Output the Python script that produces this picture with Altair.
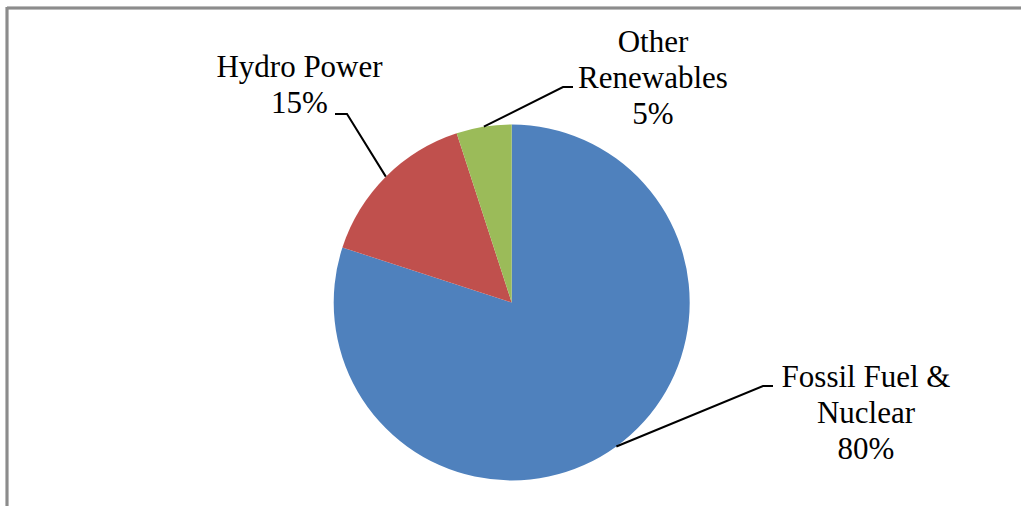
import math
import altair as alt
import pandas as pd

# Share of electricity generation by source
sources = ["Fossil Fuel & Nuclear", "Hydro Power", "Other Renewables"]
shares = [80, 15, 5]
label_lines = [["Fossil Fuel &", "Nuclear"], ["Hydro Power"], ["Other", "Renewables"]]

# Styling and layout
colors = ["#4F81BD", "#C0504D", "#9BBB59"]
W, H = 1021, 506
CX, CY, R = 511.7, 302.5, 178
FONT = "Liberation Serif"
# label anchor (centre x, first baseline y), leader elbow and leader end per source
label_pos = [(866, 386.7), (299.5, 76.7), (653, 51.7)]
elbows = [(763, 386), (347, 114), (563, 87)]
ends = [(773, 386), (335, 114), (573, 87)]

total = sum(shares)
pie_df = pd.DataFrame({"source": sources, "share": shares, "idx": list(range(len(sources)))})

# leader lines: start on the rim at the middle angle of each slice
rows = []
cum = 0
for i, (src, sh) in enumerate(zip(sources, shares)):
    mid = (cum + sh / 2) / total * 2 * math.pi
    cum += sh
    ex, ey = CX + R * math.sin(mid), CY - R * math.cos(mid)
    for k, (px, py) in enumerate([(ex, ey), elbows[i], ends[i]]):
        rows.append({"source": src, "k": k, "px": px, "py": py})
leader_df = pd.DataFrame(rows)

label_df = pd.DataFrame({
    "source": sources,
    "text": ["\n".join(lines + [f"{sh}%"]) for lines, sh in zip(label_lines, shares)],
    "lx": [p[0] for p in label_pos],
    "ly": [p[1] for p in label_pos],
})

pie = alt.Chart(pie_df).mark_arc(outerRadius=R).encode(
    theta=alt.Theta("share:Q", stack=True),
    color=alt.Color("source:N", scale=alt.Scale(domain=sources, range=colors), legend=None),
    order=alt.Order("idx:Q", sort="ascending"),
    x=alt.value(CX),
    y=alt.value(CY),
)

leaders = alt.Chart(leader_df).mark_line(color="black", strokeWidth=2).encode(
    x=alt.X("px:Q", scale=None),
    y=alt.Y("py:Q", scale=None),
    detail="source:N",
    order="k:Q",
)

labels = alt.Chart(label_df).mark_text(
    font=FONT, fontSize=31, color="black", align="center", baseline="alphabetic",
    lineBreak="\n", lineHeight=36,
).encode(
    x=alt.X("lx:Q", scale=None),
    y=alt.Y("ly:Q", scale=None),
    text="text:N",
)

frame_top = alt.Chart(pie_df).mark_rule(color="#8c8c8c", strokeWidth=2.5).encode(
    x=alt.value(7), x2=alt.value(W + 5), y=alt.value(8)
)
frame_left = alt.Chart(pie_df).mark_rule(color="#8c8c8c", strokeWidth=2.5).encode(
    x=alt.value(7), y=alt.value(7), y2=alt.value(H + 5)
)

chart = alt.layer(frame_top, frame_left, pie, leaders, labels).properties(
    width=W, height=H, padding=0, autosize=alt.AutoSizeParams(type="none"),
    background="white",
).configure_view(stroke=None)

chart.save("out.html", embed_options={"renderer": "svg", "actions": False})
